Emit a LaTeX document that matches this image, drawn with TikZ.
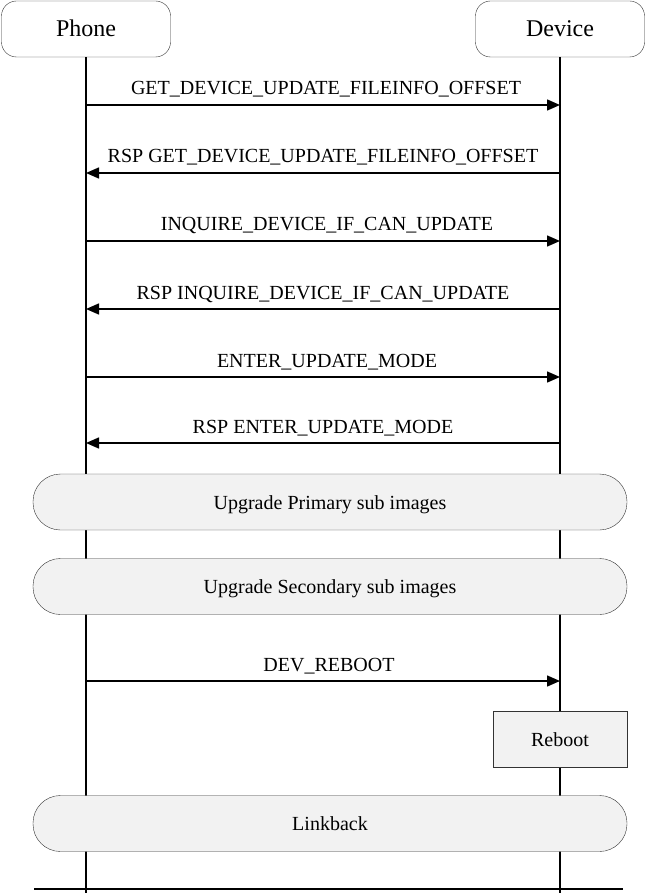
\documentclass[tikz,border=0pt]{standalone}
\usepackage{fontspec}
\setmainfont{Liberation Serif}
\usepackage{tikz}
\usetikzlibrary{arrows.meta, positioning}

\begin{document}
\begin{tikzpicture}[
    x=1pt, y=1pt,
    every node/.style={font=\fontsize{20}{24}\selectfont},
    actor node/.style={rectangle, draw=black!80, rounded corners=15pt, minimum width=169pt, minimum height=56pt, inner sep=0pt, text height=18pt, text depth=2pt, font=\fontsize{24}{28}\selectfont},
    lifeline/.style={line width=1.5pt},
    message/.style={line width=1.5pt, -{Triangle[length=13pt, width=11pt]}},
    msg label/.style={midway, anchor=base, yshift=10pt, inner sep=0pt},
    phase node/.style={rectangle, draw=black!80, fill=black!5, rounded corners=27.5pt, minimum width=594pt, minimum height=56pt, inner sep=0pt, text height=15pt, text depth=1pt},
    action node/.style={rectangle, draw=black!80, fill=black!5, minimum width=134pt, minimum height=56pt, inner sep=0pt, text height=15pt, text depth=1pt}
]
\useasboundingbox (0,0) rectangle (646,-893);

% Actors
\node[actor node] (Phone) at (86,-29) {Phone};
\node[actor node] (Device) at (560,-29) {Device};

% Lifelines
\coordinate (PhoneEnd) at (86,-893);
\coordinate (DeviceEnd) at (560,-893);
\draw[lifeline] (Phone.south) -- (PhoneEnd);
\draw[lifeline] (Device.south) -- (DeviceEnd);

% Messages
\coordinate (P1) at (86,-105);  \coordinate (D1) at (560,-105);
\coordinate (P2) at (86,-173);  \coordinate (D2) at (560,-173);
\coordinate (P3) at (86,-241);  \coordinate (D3) at (560,-241);
\coordinate (P4) at (86,-309);  \coordinate (D4) at (560,-309);
\coordinate (P5) at (86,-377);  \coordinate (D5) at (560,-377);
\coordinate (P6) at (86,-443);  \coordinate (D6) at (560,-443);
\coordinate (P7) at (86,-681);  \coordinate (D7) at (560,-681);

\draw[message] (P1) -- (D1) node[msg label, xshift=3pt] {GET\_DEVICE\_UPDATE\_FILEINFO\_OFFSET};
\draw[message] (D2) -- (P2) node[msg label] {RSP GET\_DEVICE\_UPDATE\_FILEINFO\_OFFSET};
\draw[message] (P3) -- (D3) node[msg label, xshift=4pt] {INQUIRE\_DEVICE\_IF\_CAN\_UPDATE};
\draw[message] (D4) -- (P4) node[msg label] {RSP INQUIRE\_DEVICE\_IF\_CAN\_UPDATE};
\draw[message] (P5) -- (D5) node[msg label, xshift=4pt] {ENTER\_UPDATE\_MODE};
\draw[message] (D6) -- (P6) node[msg label] {RSP ENTER\_UPDATE\_MODE};

% Upgrade phases
\node[phase node] (Primary) at (330,-502) {Upgrade Primary sub images};
\node[phase node] (Secondary) at (330,-586.5) {Upgrade Secondary sub images};

\draw[message] (P7) -- (D7) node[msg label, xshift=6pt] {DEV\_REBOOT};

% Reboot and linkback
\node[action node] (Reboot) at (560,-739) {Reboot};
\node[phase node] (Linkback) at (330,-823.5) {Linkback};

% Bottom line
\coordinate (BottomL) at (34,-889);
\coordinate (BottomR) at (623,-889);
\draw[lifeline] (BottomL) -- (BottomR);
\end{tikzpicture}
\end{document}
